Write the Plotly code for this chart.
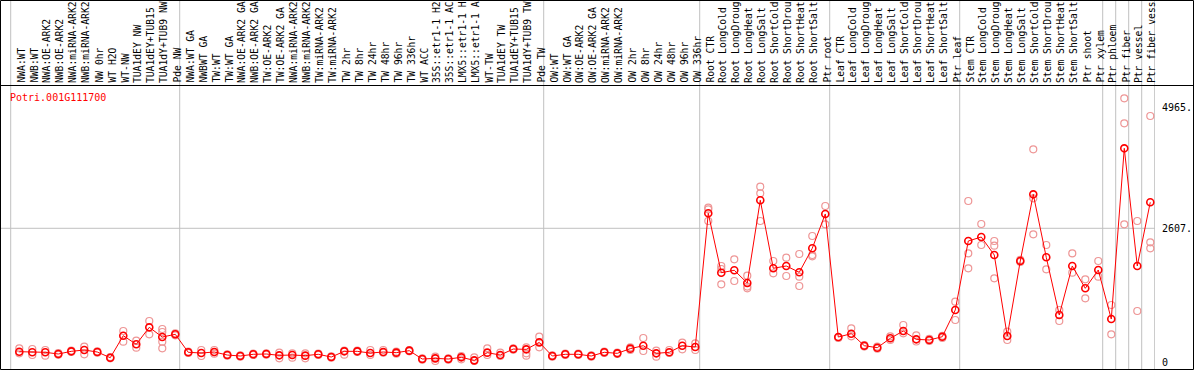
import plotly.graph_objects as go

categories = [
    "NWA:WT", "NWB:WT", "NWA:OE-ARK2", "NWB:OE-ARK2", "NWA:miRNA-ARK2", "NWB:miRNA-ARK2",
    "NW 0hr", "WT H2O", "WT-NW", "TUA1dEY NW", "TUA1dEY+TUB15 NW", "TUA1dY+TUB9 NW", "Pde NW",
    "NWA:WT GA", "NWBWT GA", "TW:WT", "TW:WT GA", "NWA:OE-ARK2 GA", "NWB:OE-ARK2 GA",
    "TW:OE-ARK2", "TW:OE-ARK2 GA", "NWA:miRNA-ARK2", "NWB:miRNA-ARK2", "TW:miRNA-ARK2",
    "TW:miRNA-ARK2 GA", "TW 2hr", "TW 8hr", "TW 24hr", "TW 48hr", "TW 96hr", "TW 336hr",
    "WT ACC", "35S::etr1-1 H2O", "35S::etr1-1 ACC", "LMX5::etr1-1 H2O", "LMX5::etr1-1 ACC",
    "WT-TW", "TUA1dEY TW", "TUA1dEY+TUB15 TW", "TUA1dY+TUB9 TW", "Pde TW",
    "OW:WT", "OW:WT GA", "OW:OE-ARK2", "OW:OE-ARK2 GA", "OW:miRNA-ARK2", "OW:miRNA-ARK2 GA",
    "OW 2hr", "OW 8hr", "OW 24hr", "OW 48hr", "OW 96hr", "OW 336hr",
    "Root CTR", "Root LongCold", "Root LongDrought", "Root LongHeat", "Root LongSalt",
    "Root ShortCold", "Root ShortDrought", "Root ShortHeat", "Root ShortSalt", "Ptr root",
    "Leaf CTR", "Leaf LongCold", "Leaf LongDrought", "Leaf LongHeat", "Leaf LongSalt",
    "Leaf ShortCold", "Leaf ShortDrought", "Leaf ShortHeat", "Leaf ShortSalt", "Ptr leaf",
    "Stem CTR", "Stem LongCold", "Stem LongDrought", "Stem LongHeat", "Stem LongSalt",
    "Stem ShortCold", "Stem ShortDrought", "Stem ShortHeat", "Stem ShortSalt", "Ptr shoot",
    "Ptr xylem", "Ptr phloem", "Ptr fiber", "Ptr vessel", "Ptr fiber vessel",
]

mean_values = [
    201, 189, 189, 156, 208, 234, 195, 84, 513, 345, 676, 487, 540,
    189, 175, 195, 136, 117, 150, 156, 130, 136, 124, 150, 97, 208, 208, 175, 195, 182, 221,
    58, 71, 58, 91, 32, 182, 136, 253, 247, 383,
    117, 150, 150, 117, 189, 169, 260, 318, 169, 189, 318, 292,
    2899, 1741, 1788, 1540, 3153, 1827, 1872, 1749, 2217, 2886,
    487, 552, 318, 279, 462, 604, 442, 429, 493, 1014,
    2359, 2437, 2086, 507, 1969, 3269, 2041, 916, 1872, 1437, 1794,
    838, 4166, 1872, 3114,
]

replicate_values = [
    [267, 170], [253, 136], [234, 124], [175, 140], [221, 195], [299, 150],
    [208, 182], [97, 71], [604, 396], [416, 279], [799, 540], [643, 585, 396, 267], [560, 520],
    [201, 175], [234, 117], [234, 162], [150, 124], [130, 104], [162, 136],
    [169, 143], [182, 71], [169, 84], [169, 71], [162, 136],
    [110, 84], [143, 221], [221, 195], [234, 136], [234, 182], [201, 162], [234, 208],
    [71, 45], [104, 19], [71, 45], [117, 52], [91, 19],
    [267, 136], [182, 117], [267, 240], [286, 169, 124], [493, 286],
    [130, 104], [162, 136], [162, 136], [130, 104], [201, 175], [182, 156],
    [286, 234], [468, 214], [221, 104], [234, 175], [377, 247], [364, 234],
    [3009, 2977, 2749], [1872, 1813, 1515], [2002, 1579], [1683, 1437, 1470], [3418, 3289, 2749],
    [1969, 1729], [2034, 1677], [2106, 1664, 1482], [2457, 2086, 2060], [3042, 2684],
    [480, 470], [656, 500], [330, 300], [260, 300], [500, 430],
    [721, 560], [520, 400], [450, 410], [510, 470], [1176, 819],
    [3139, 2119, 1827], [2691, 2281], [2359, 2268, 1632], [591, 429], [1990, 1950],
    [4147, 3192, 2490], [2281, 1807], [1014, 799], [2119, 1741], [1612, 1242],
    [1969, 1664], [1111, 540], [5141, 4654, 2684], [2749, 994], [4796, 2334, 2217],
]

group_breaks = [0, 13, 41, 53, 63, 73, 84, 85, 86, 87, 88]
gene_id = "Potri.001G111700"
tick_values = [0, 2607, 4965]
tick_labels = ["0", "2607.", "4965."]

MONO = "DejaVu Sans Mono"
W, H = 1194, 370
ML, MR, MT, MB = 0, 39, 85, 1
PW = W - ML - MR
PH = H - MT - MB

POINT_OFF = 0.66
LABEL_OFF = 0.8

x_mean = [i + POINT_OFF for i in range(len(categories))]
x_rep, y_rep = [], []
for i, reps in enumerate(replicate_values):
    for v in reps:
        x_rep.append(i + POINT_OFF)
        y_rep.append(v)

fig = go.Figure()
fig.add_trace(go.Scatter(
    x=x_rep, y=y_rep, mode="markers",
    marker=dict(symbol="circle-open", size=7, color="rgb(238,150,150)",
                line=dict(width=1.2, color="rgb(238,150,150)")),
    hoverinfo="y", showlegend=False,
))
fig.add_trace(go.Scatter(
    x=x_mean, y=mean_values, mode="lines+markers",
    line=dict(color="#ff0000", width=1),
    marker=dict(symbol="circle-open", size=7, color="#ff0000",
                line=dict(width=1.6, color="#ff0000")),
    text=categories, hoverinfo="text+y", showlegend=False,
))

def px_to_paper_y(py):
    return (H - MB - py) / PH

def px_to_paper_x(px):
    return (px - ML) / PW

shapes = []
for b in group_breaks:
    shapes.append(dict(type="line", xref="x", yref="paper", x0=b, x1=b,
                       y0=0, y1=px_to_paper_y(0), line=dict(color="#c0c0c0", width=1),
                       layer="below"))
shapes.append(dict(type="line", xref="paper", yref="y", x0=0, x1=1, y0=2607, y1=2607,
                   line=dict(color="#c0c0c0", width=1), layer="below"))
shapes.append(dict(type="line", xref="paper", yref="paper", x0=px_to_paper_x(0),
                   x1=px_to_paper_x(1194), y0=px_to_paper_y(85.5), y1=px_to_paper_y(85.5),
                   line=dict(color="black", width=1)))
shapes.append(dict(type="rect", xref="paper", yref="paper", x0=px_to_paper_x(0.5),
                   x1=px_to_paper_x(1193.5), y0=px_to_paper_y(369.5), y1=px_to_paper_y(0.5),
                   line=dict(color="black", width=1), fillcolor="rgba(0,0,0,0)"))

annotations = []
for i, name in enumerate(categories):
    annotations.append(dict(
        x=i + LABEL_OFF, xref="x", y=px_to_paper_y(84), yref="paper",
        text=name[:14], textangle=-90, showarrow=False, xanchor="center", yanchor="bottom",
        font=dict(family=MONO, size=9.7, color="black"), borderpad=0,
    ))
annotations.append(dict(
    x=px_to_paper_x(9), xref="paper", y=px_to_paper_y(97), yref="paper",
    text=gene_id, showarrow=False, xanchor="left", yanchor="middle",
    font=dict(family=MONO, size=10, color="#ff0000"), borderpad=0,
))

fig.update_layout(
    template="none",
    width=W, height=H,
    margin=dict(l=ML, r=MR, t=MT, b=MB, pad=0, autoexpand=False),
    paper_bgcolor="white", plot_bgcolor="white",
    shapes=shapes, annotations=annotations,
    xaxis=dict(range=[(0 - 10.7) / 13, (1155 - 10.7) / 13], showgrid=False, zeroline=False,
               showticklabels=False, ticks="", showline=False, fixedrange=True,
               automargin=False),
    yaxis=dict(range=[-136.5, 5400.7], side="right", showgrid=False, zeroline=False,
               tickvals=tick_values, ticktext=tick_labels, ticks="", showline=False,
               ticklabelstandoff=6, automargin=False,
               tickfont=dict(family=MONO, size=10, color="black"), fixedrange=True),
)

fig.write_html("out.html",
               config={"displayModeBar": False},
               post_script="document.body.style.margin='0px';document.body.style.overflow='hidden';")
